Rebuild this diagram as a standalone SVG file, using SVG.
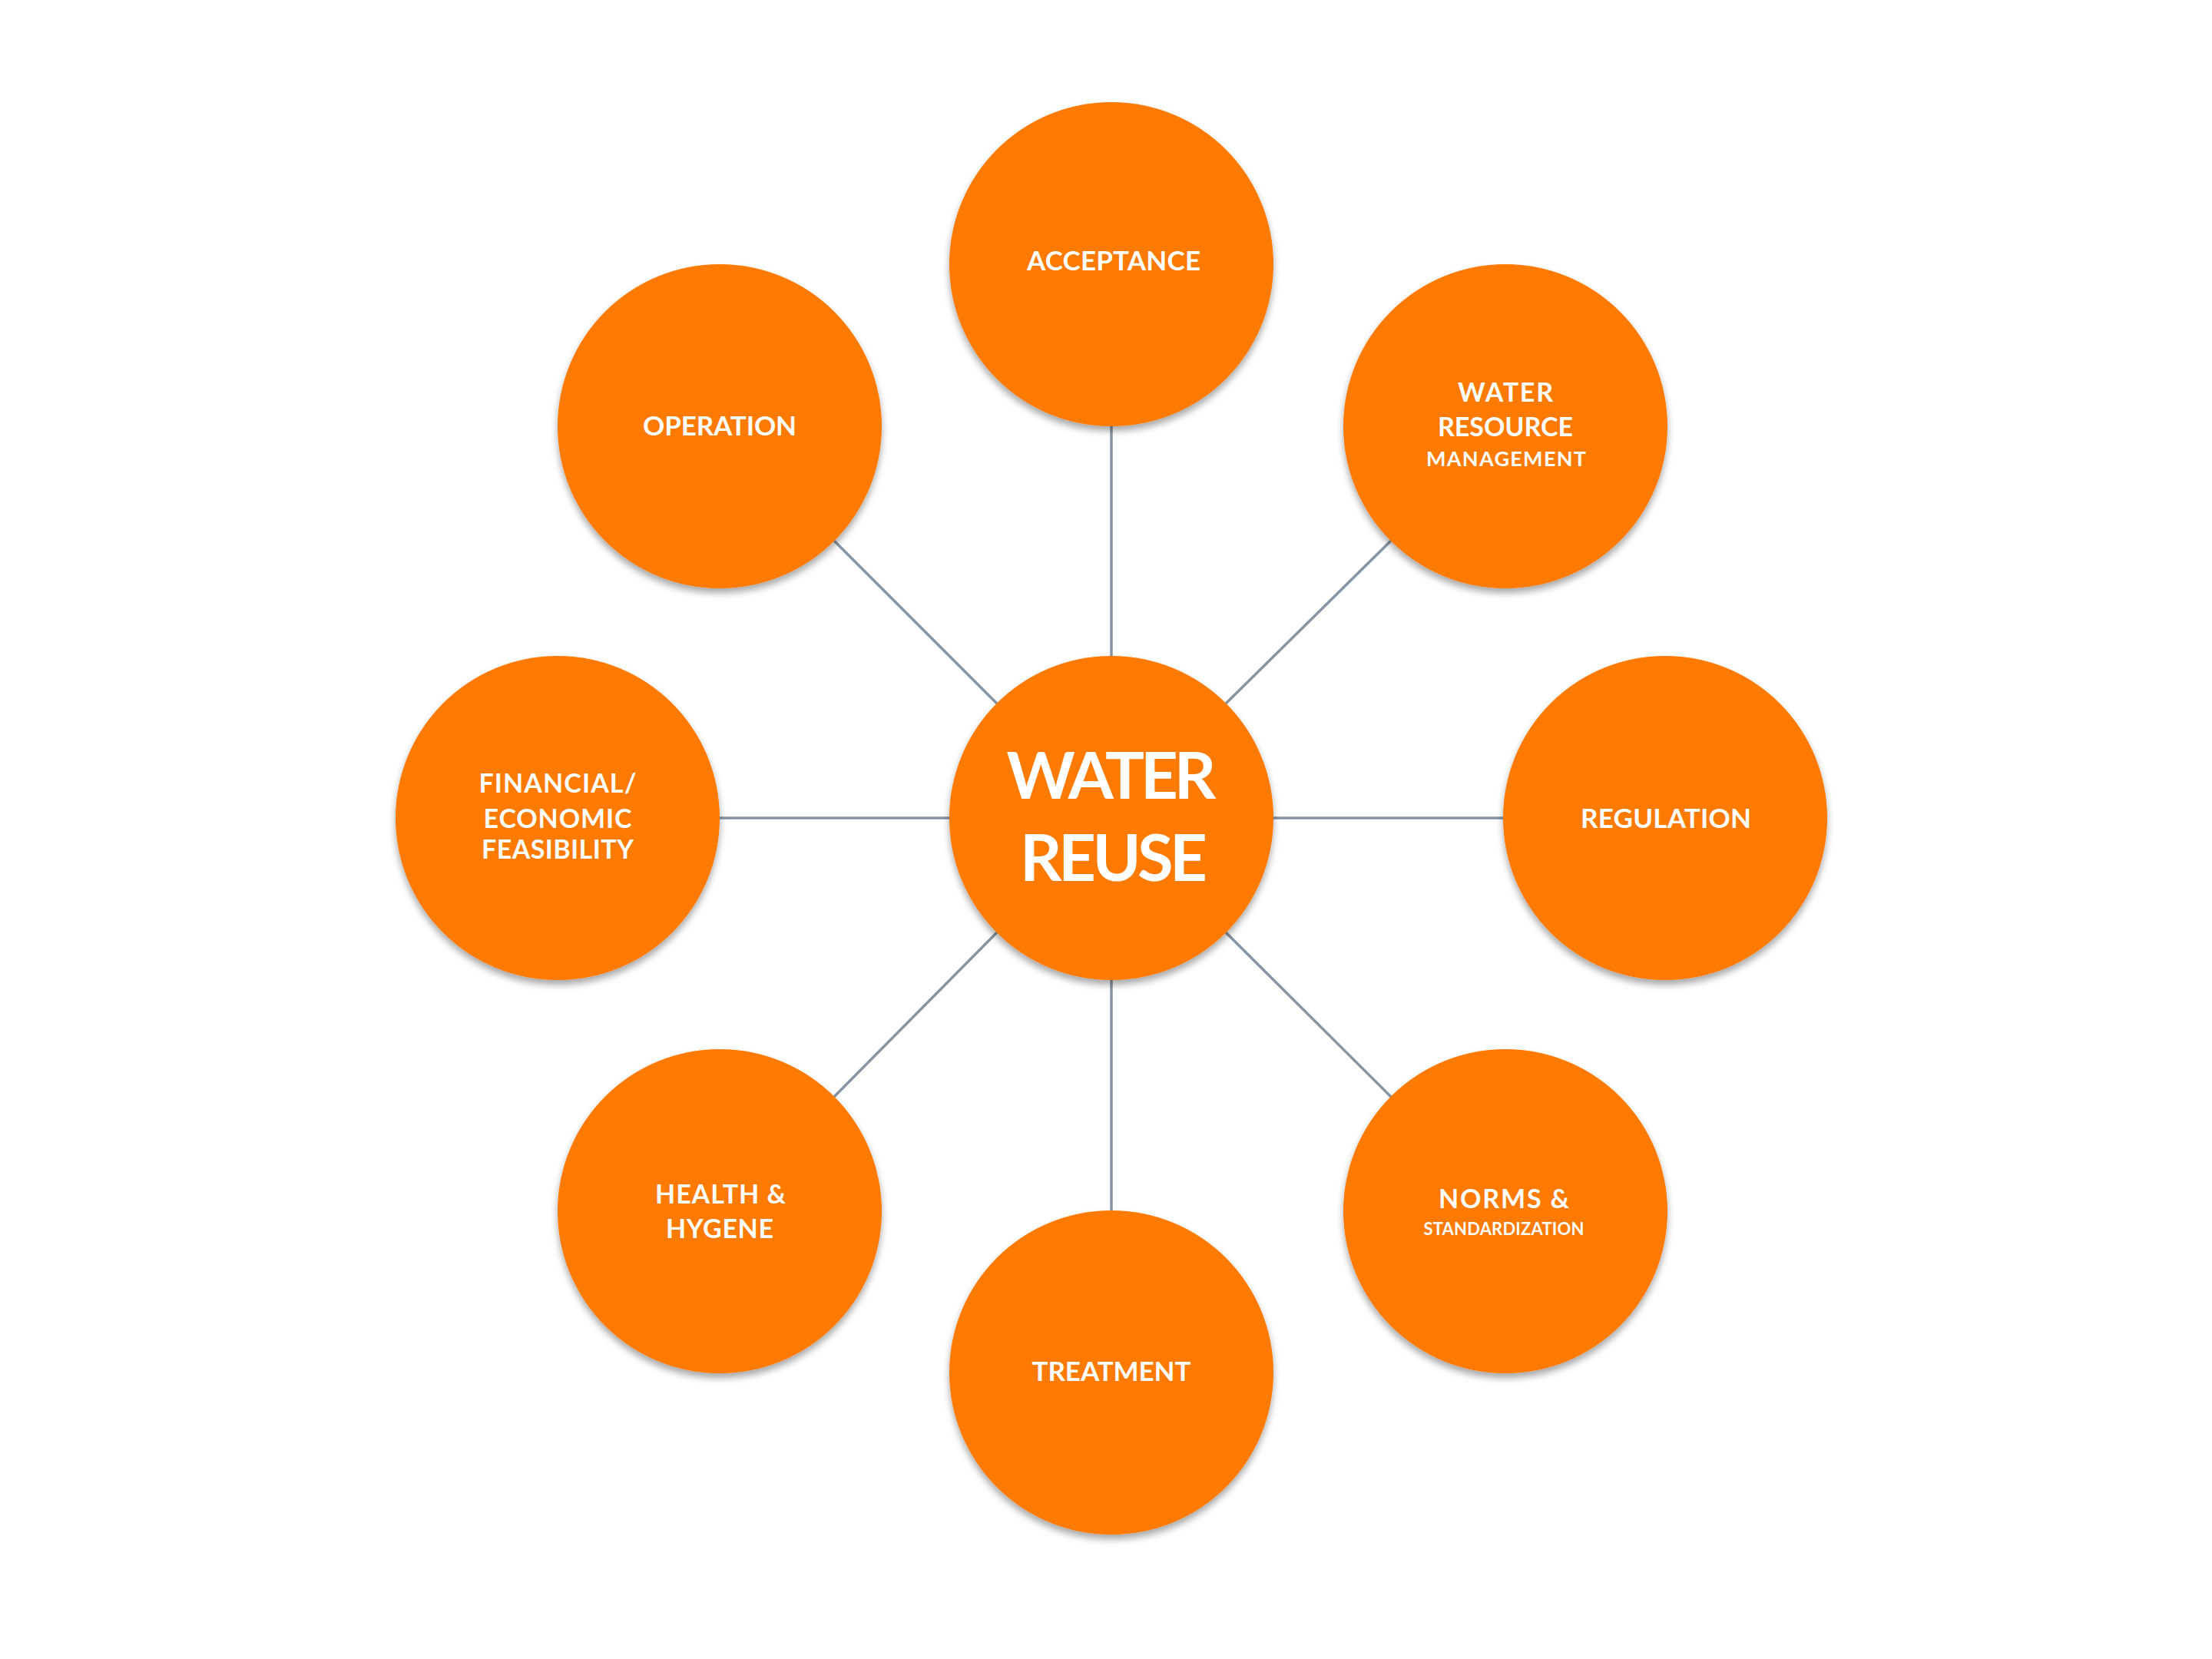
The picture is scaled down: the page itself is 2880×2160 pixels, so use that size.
<svg xmlns="http://www.w3.org/2000/svg" width="2880" height="2160" viewBox="0 0 2880 2160">
  <defs>
    <filter id="shadow" x="-20%" y="-20%" width="140%" height="150%">
      <feDropShadow dx="0" dy="6" stdDeviation="5" flood-color="#000000" flood-opacity="0.35"/>
    </filter>
  </defs>
  <style>
    .node { fill: #FF7A00; filter: url(#shadow); }
    .conn { stroke: #8795a3; stroke-width: 3.5; fill: none; }
    .lbl { fill: #ffffff; font-family: Lato, "Open Sans", "Liberation Sans", sans-serif; font-weight: bold; text-anchor: middle; }
    .s34 { font-size: 35px; }
    .s33 { font-size: 34px; }
    .s25 { font-size: 27px; }
    .s21 { font-size: 22px; }
    .big { font-size: 85px; }
  </style>
  <rect width="2880" height="2160" fill="#ffffff"/>
  <g id="connectors">
    <line class="conn" x1="1447" y1="555" x2="1447" y2="854"/>
    <line class="conn" x1="1447" y1="1276" x2="1447" y2="1576"/>
    <line class="conn" x1="937" y1="1065" x2="1236" y2="1065"/>
    <line class="conn" x1="1658" y1="1065" x2="1957" y2="1065"/>
    <line class="conn" x1="1298" y1="916" x2="1086" y2="704"/>
    <line class="conn" x1="1596" y1="916" x2="1811" y2="704"/>
    <line class="conn" x1="1298" y1="1214" x2="1086" y2="1428"/>
    <line class="conn" x1="1596" y1="1214" x2="1811" y2="1428"/>
  </g>
  <g id="node-center">
    <circle class="node" cx="1447" cy="1065" r="211"/>
    <text class="lbl big" x="1447" y="1040" textLength="273">WATER</text>
    <text class="lbl big" x="1450" y="1147" textLength="244">REUSE</text>
  </g>
  <g id="node-acceptance">
    <circle class="node" cx="1447" cy="344" r="211"/>
    <text class="lbl s34" x="1450" y="352" textLength="226">ACCEPTANCE</text>
  </g>
  <g id="node-wrm">
    <circle class="node" cx="1960" cy="555" r="211"/>
    <text class="lbl s33" x="1960" y="523" textLength="124">WATER</text>
    <text class="lbl s33" x="1960" y="568" textLength="176">RESOURCE</text>
    <text class="lbl s25" x="1961" y="607" textLength="208">MANAGEMENT</text>
  </g>
  <g id="node-operation">
    <circle class="node" cx="937" cy="555" r="211"/>
    <text class="lbl s34" x="937" y="567" textLength="200">OPERATION</text>
  </g>
  <g id="node-financial">
    <circle class="node" cx="726" cy="1065" r="211"/>
    <text class="lbl s33" x="726" y="1032" textLength="205">FINANCIAL/</text>
    <text class="lbl s33" x="726" y="1078" textLength="193">ECONOMIC</text>
    <text class="lbl s33" x="726" y="1118" textLength="198">FEASIBILITY</text>
  </g>
  <g id="node-regulation">
    <circle class="node" cx="2168" cy="1065" r="211"/>
    <text class="lbl s34" x="2169" y="1078" textLength="222">REGULATION</text>
  </g>
  <g id="node-health">
    <circle class="node" cx="937" cy="1577" r="211"/>
    <text class="lbl s33" x="938" y="1567" textLength="170">HEALTH &amp;</text>
    <text class="lbl s33" x="937" y="1612" textLength="140">HYGENE</text>
  </g>
  <g id="node-norms">
    <circle class="node" cx="1960" cy="1577" r="211"/>
    <text class="lbl s33" x="1958" y="1573" textLength="170">NORMS &amp;</text>
    <text class="lbl s21" x="1958" y="1608" textLength="209">STANDARDIZATION</text>
  </g>
  <g id="node-treatment">
    <circle class="node" cx="1447" cy="1787" r="211"/>
    <text class="lbl s34" x="1447" y="1798" textLength="207">TREATMENT</text>
  </g>
</svg>
